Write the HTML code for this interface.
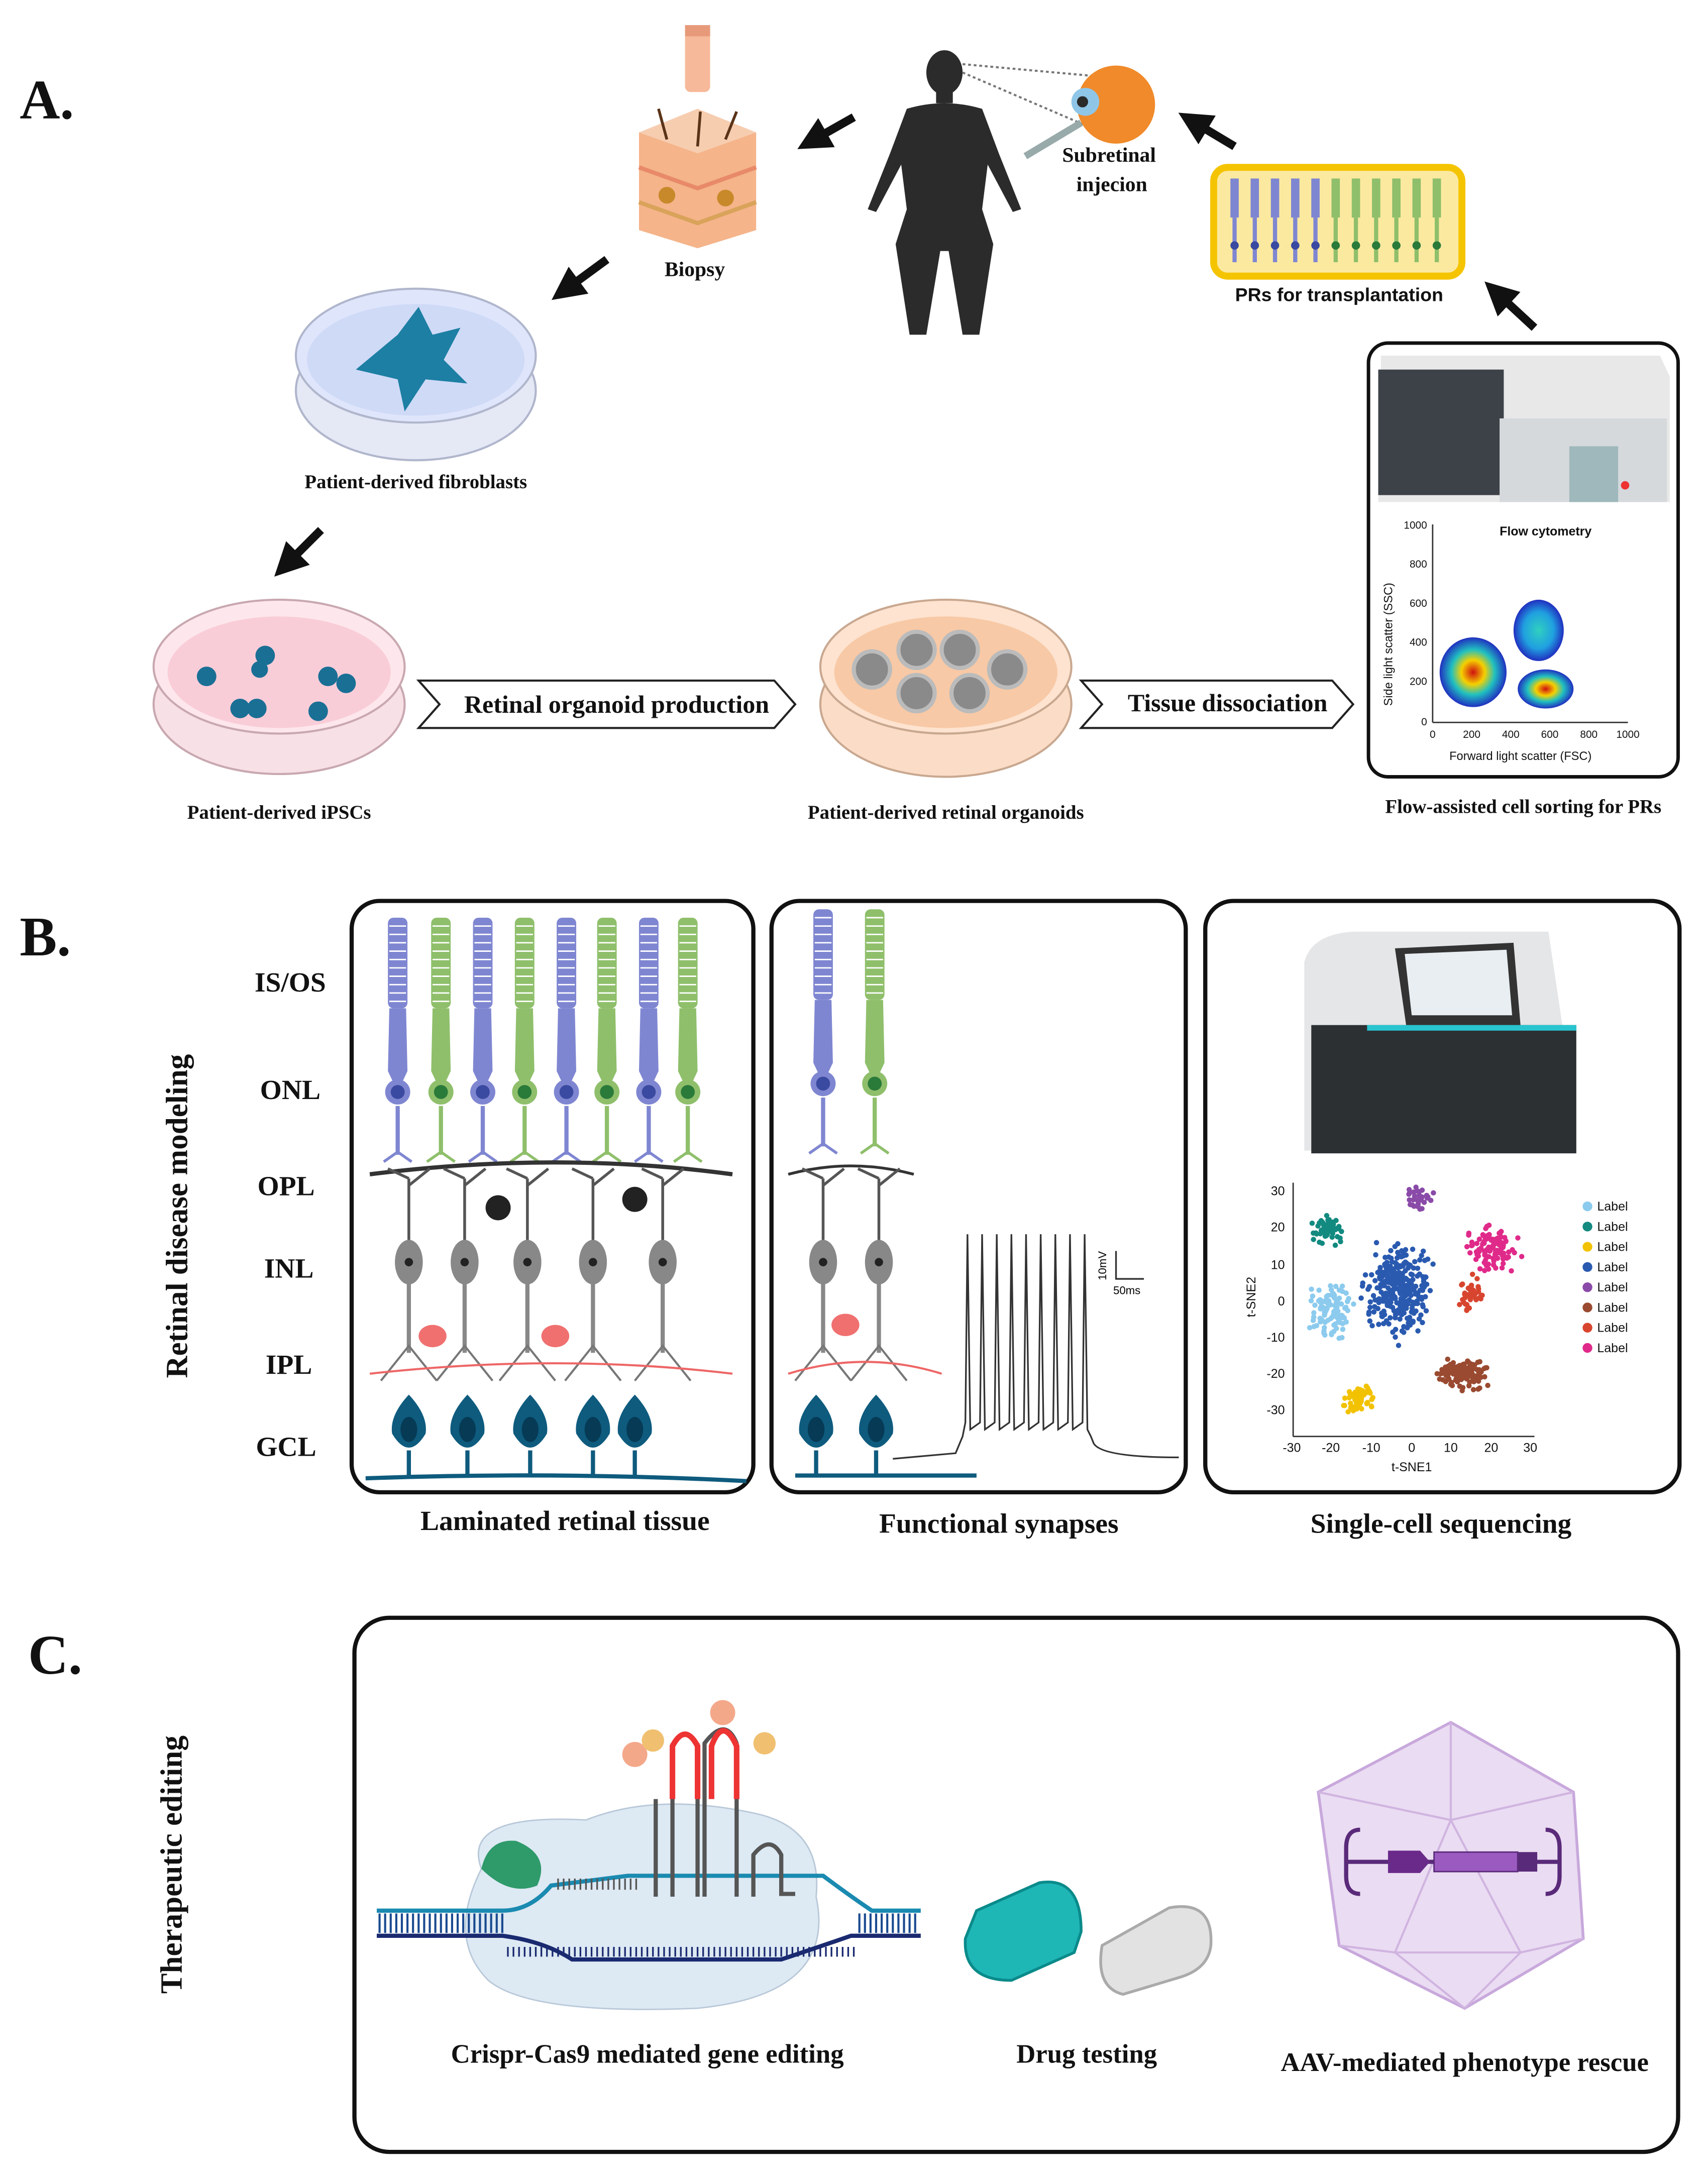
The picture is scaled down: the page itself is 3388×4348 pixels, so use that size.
<!DOCTYPE html>
<html><head><meta charset="utf-8">
<style>
html,body{margin:0;padding:0;background:#fff;}
svg{display:block;}
.s{font-family:"Liberation Serif",serif;font-weight:bold;fill:#111;}
.a{font-family:"Liberation Sans",sans-serif;fill:#111;}
</style></head>
<body>
<svg id="sv" width="3388" height="4348" viewBox="0 0 1220 1566" xmlns="http://www.w3.org/2000/svg">
<defs>
<marker id="ah" markerWidth="4" markerHeight="4" refX="2" refY="2" orient="auto"><path d="M0,0 L4,2 L0,4 z" fill="#111"/></marker>
<radialGradient id="hot"><stop offset="0" stop-color="#d01010"/><stop offset="0.35" stop-color="#f5d000"/><stop offset="0.65" stop-color="#20c0c0"/><stop offset="1" stop-color="#2030c0"/></radialGradient>
<radialGradient id="hot2"><stop offset="0" stop-color="#30d0c0"/><stop offset="0.6" stop-color="#20a0e0"/><stop offset="1" stop-color="#2030c0"/></radialGradient>
</defs>
<rect width="1220" height="1566" fill="#fff"/>

<!-- ===== A ===== -->
<text x="14" y="85" class="s" font-size="40">A.</text>
<!-- biopsy -->
<rect x="491" y="18" width="18" height="48" rx="4" fill="#f6b99a"/>
<rect x="491" y="18" width="18" height="8" fill="#e79a7a"/>
<path d="M458,95 L500,78 L542,95 L542,165 L500,178 L458,165 Z" fill="#f5b48a"/>
<path d="M458,95 L500,78 L542,95 L500,110 Z" fill="#f7cdb0"/>
<path d="M458,120 L500,135 L542,120" stroke="#e88a6a" stroke-width="3" fill="none"/>
<path d="M458,145 L500,160 L542,145" stroke="#d9a35a" stroke-width="3" fill="none"/>
<circle cx="478" cy="140" r="6" fill="#c8892a"/><circle cx="520" cy="142" r="6" fill="#c8892a"/>
<path d="M478,100 l-6,-22 M500,105 l2,-25 M520,100 l8,-20" stroke="#5a3318" stroke-width="2"/>
<text x="498" y="198" class="s" font-size="15" text-anchor="middle" font-weight="normal">Biopsy</text>
<line x1="612" y1="84" x2="582" y2="101" stroke="#111" stroke-width="6" marker-end="url(#ah)"/>
<!-- human -->
<g fill="#2b2b2b">
<ellipse cx="677" cy="52" rx="13" ry="16"/>
<rect x="671" y="64" width="12" height="10"/>
<path d="M650,78 Q677,70 704,78 L716,110 L732,150 L726,152 L708,118 L704,150 L712,175 L702,240 L690,240 L680,180 L674,180 L664,240 L652,240 L642,175 L650,150 L646,118 L628,152 L622,150 L638,110 Z"/>
</g>
<line x1="690" y1="46" x2="790" y2="55" stroke="#777" stroke-width="1.5" stroke-dasharray="2,2"/>
<line x1="690" y1="52" x2="790" y2="95" stroke="#777" stroke-width="1.5" stroke-dasharray="2,2"/>
<circle cx="800" cy="75" r="28" fill="#f08a2a"/>
<circle cx="778" cy="73" r="10" fill="#8fc6e8"/><circle cx="776" cy="73" r="4" fill="#2a2a2a"/>
<line x1="735" y1="112" x2="775" y2="88" stroke="#9aa" stroke-width="5"/>
<text x="795" y="116" class="s" font-size="15" text-anchor="middle" font-weight="normal">Subretinal</text>
<text x="797" y="137" class="s" font-size="15" text-anchor="middle" font-weight="normal">injecion</text>
<line x1="885" y1="105" x2="855" y2="87" stroke="#111" stroke-width="6" marker-end="url(#ah)"/>
<!-- PR box -->
<rect x="870" y="120" width="178" height="78" rx="10" fill="#fce9a0" stroke="#f5c400" stroke-width="5"/>
<g id="prs"></g>
<text x="960" y="216" class="a" font-size="13.5" text-anchor="middle" font-weight="bold">PRs for transplantation</text>
<line x1="1100" y1="235" x2="1073" y2="210" stroke="#111" stroke-width="6" marker-end="url(#ah)"/>
<line x1="435" y1="186" x2="405" y2="208" stroke="#111" stroke-width="6" marker-end="url(#ah)"/>
<!-- dish fibroblasts -->
<ellipse cx="298" cy="280" rx="86" ry="50" fill="#e5e8f5" stroke="#b0b6cc" stroke-width="1.5"/>
<ellipse cx="298" cy="255" rx="86" ry="48" fill="#dfe6fb" stroke="#b0b6cc" stroke-width="1.5"/>
<ellipse cx="298" cy="258" rx="78" ry="40" fill="#cfdaf7"/>
<path d="M255,265 L285,240 L300,220 L310,240 L330,235 L318,258 L335,275 L305,272 L290,295 L285,272 Z" fill="#1c7fa3"/>
<text x="298" y="350" class="s" font-size="14" text-anchor="middle" font-weight="normal">Patient-derived fibroblasts</text>
<line x1="230" y1="380" x2="205" y2="405" stroke="#111" stroke-width="6" marker-end="url(#ah)"/>
<!-- dish iPSC -->
<ellipse cx="200" cy="505" rx="90" ry="50" fill="#f7e0e6" stroke="#c9a8b0" stroke-width="1.5"/>
<ellipse cx="200" cy="478" rx="90" ry="48" fill="#fde7ec" stroke="#c9a8b0" stroke-width="1.5"/>
<ellipse cx="200" cy="482" rx="80" ry="40" fill="#f9cdd8"/>
<g fill="#1a6f95"><circle cx="148" cy="485" r="7"/><circle cx="190" cy="470" r="7"/><circle cx="186" cy="480" r="6"/><circle cx="172" cy="508" r="7"/><circle cx="184" cy="508" r="7"/><circle cx="235" cy="485" r="7"/><circle cx="248" cy="490" r="7"/><circle cx="228" cy="510" r="7"/></g>
<text x="200" y="587" class="s" font-size="14" text-anchor="middle" font-weight="normal">Patient-derived iPSCs</text>
<polygon points="300,488 555,488 570,505 555,522 300,522 315,505" fill="#fff" stroke="#222" stroke-width="1.5"/>
<text x="442" y="511" class="s" font-size="18" text-anchor="middle" font-weight="normal">Retinal organoid production</text>
<!-- dish organoids -->
<ellipse cx="678" cy="505" rx="90" ry="52" fill="#fbdcc6" stroke="#c9a890" stroke-width="1.5"/>
<ellipse cx="678" cy="478" rx="90" ry="48" fill="#fde3d0" stroke="#c9a890" stroke-width="1.5"/>
<ellipse cx="678" cy="482" rx="80" ry="40" fill="#f8c9a6"/>
<g fill="#8a8a8a" stroke="#bbb" stroke-width="3">
<circle cx="625" cy="480" r="13"/><circle cx="657" cy="466" r="13"/><circle cx="688" cy="466" r="13"/><circle cx="722" cy="480" r="13"/><circle cx="657" cy="497" r="13"/><circle cx="695" cy="497" r="13"/></g>
<text x="678" y="587" class="s" font-size="14" text-anchor="middle" font-weight="normal">Patient-derived retinal organoids</text>
<polygon points="775,488 955,488 970,505 955,522 775,522 790,505" fill="#fff" stroke="#222" stroke-width="1.5"/>
<text x="880" y="510" class="s" font-size="18" text-anchor="middle" font-weight="normal">Tissue dissociation</text>
<!-- flow box -->
<rect x="981" y="246" width="222" height="311" rx="14" fill="#fff" stroke="#111" stroke-width="2.5"/>
<path d="M990,255 L1190,255 L1197,270 L1197,360 L988,360 Z" fill="#e8e8e8"/>
<rect x="988" y="265" width="90" height="90" fill="#3d4248"/>
<rect x="1075" y="300" width="120" height="60" fill="#d5d9dc"/>
<rect x="1125" y="320" width="35" height="40" fill="#9fb8bb"/>
<circle cx="1165" cy="348" r="3" fill="#e33"/>
<text x="1108" y="384" class="a" font-size="9" text-anchor="middle" font-weight="bold">Flow cytometry</text>
<line x1="1027" y1="376" x2="1027" y2="518" stroke="#333"/><line x1="1027" y1="518" x2="1167" y2="518" stroke="#333"/>
<g class="a" font-size="7.5" text-anchor="end">
<text x="1023" y="379">1000</text><text x="1023" y="407">800</text><text x="1023" y="435">600</text><text x="1023" y="463">400</text><text x="1023" y="491">200</text><text x="1023" y="520">0</text></g>
<g class="a" font-size="7.5" text-anchor="middle">
<text x="1027" y="529">0</text><text x="1055" y="529">200</text><text x="1083" y="529">400</text><text x="1111" y="529">600</text><text x="1139" y="529">800</text><text x="1167" y="529">1000</text></g>
<text x="1090" y="545" class="a" font-size="8.5" text-anchor="middle">Forward light scatter (FSC)</text>
<text transform="translate(998,462) rotate(-90)" class="a" font-size="8.5" text-anchor="middle">Side light scatter (SSC)</text>
<ellipse cx="1056" cy="482" rx="24" ry="25" fill="url(#hot)"/>
<ellipse cx="1103" cy="452" rx="18" ry="22" fill="url(#hot2)"/>
<ellipse cx="1108" cy="494" rx="20" ry="14" fill="url(#hot)"/>
<text x="1092" y="583" class="s" font-size="14" text-anchor="middle" font-weight="normal">Flow-assisted cell sorting for PRs</text>

<!-- ===== B ===== -->
<text x="14" y="685" class="s" font-size="40">B.</text>
<text transform="translate(134,872) rotate(-90)" class="s" font-size="22" text-anchor="middle" font-weight="normal">Retinal disease modeling</text>
<g class="s" font-size="20" text-anchor="middle" font-weight="normal">
<text x="208" y="711">IS/OS</text><text x="208" y="788">ONL</text><text x="205" y="857">OPL</text><text x="207" y="916">INL</text><text x="207" y="985">IPL</text><text x="205" y="1044">GCL</text></g>
<rect x="252" y="646" width="288" height="424" rx="20" fill="#fff" stroke="#111" stroke-width="3"/>
<rect x="553" y="646" width="297" height="424" rx="20" fill="#fff" stroke="#111" stroke-width="3"/>
<rect x="864" y="646" width="340" height="424" rx="20" fill="#fff" stroke="#111" stroke-width="3"/>
<g id="cells"></g>
<g class="s" font-size="20" text-anchor="middle" font-weight="normal">
<text x="405" y="1097">Laminated retinal tissue</text><text x="716" y="1099">Functional synapses</text><text x="1033" y="1099">Single-cell sequencing</text></g>
<!-- sequencer -->
<path d="M935,690 Q940,670 970,668 L1110,668 L1120,735 L1130,740 L1130,825 L935,825 Z" fill="#e4e6e8"/>
<rect x="940" y="735" width="190" height="92" fill="#2d3033"/>
<path d="M1000,680 L1085,676 L1090,735 L1008,735 Z" fill="#333"/>
<path d="M1007,684 L1080,681 L1084,728 L1012,728 Z" fill="#e8eef2"/>
<rect x="980" y="735" width="150" height="4" fill="#28c5d0"/>
<line x1="927" y1="848" x2="927" y2="1030" stroke="#333"/><line x1="927" y1="1030" x2="1100" y2="1030" stroke="#333"/>
<g class="a" font-size="9" text-anchor="end">
<text x="921" y="857">30</text><text x="921" y="883">20</text><text x="921" y="910">10</text><text x="921" y="936">0</text><text x="921" y="962">-10</text><text x="921" y="988">-20</text><text x="921" y="1014">-30</text></g>
<g class="a" font-size="9" text-anchor="middle">
<text x="926" y="1041">-30</text><text x="954" y="1041">-20</text><text x="983" y="1041">-10</text><text x="1012" y="1041">0</text><text x="1040" y="1041">10</text><text x="1069" y="1041">20</text><text x="1097" y="1041">30</text></g>
<text x="1012" y="1055" class="a" font-size="9" text-anchor="middle">t-SNE1</text>
<text transform="translate(900,930) rotate(-90)" class="a" font-size="9" text-anchor="middle">t-SNE2</text>
<g id="tsne"></g>
<g id="legend" class="a" font-size="9"></g>

<!-- ===== C ===== -->
<text x="20" y="1200" class="s" font-size="40">C.</text>
<text transform="translate(130,1337) rotate(-90)" class="s" font-size="22" text-anchor="middle" font-weight="normal">Therapeutic editing</text>
<rect x="254" y="1160" width="949" height="383" rx="25" fill="#fff" stroke="#111" stroke-width="3"/>
<path d="M345,1340 Q330,1300 420,1305 Q470,1285 540,1300 Q590,1310 585,1360 Q600,1430 500,1440 Q380,1445 350,1420 Q320,1390 345,1340 Z" fill="#dde9f3" stroke="#b8c8d8"/>
<g id="dna"></g>
<path d="M345,1340 Q350,1318 370,1320 Q395,1330 385,1352 Q365,1360 345,1340 Z" fill="#2f9a6a"/>
<!-- sgRNA -->
<path d="M470,1290 L470,1360 M482,1250 L482,1360 M500,1250 L500,1360 M505,1360 L505,1250 Q520,1230 528,1250 L528,1360 M540,1360 L540,1330 Q552,1315 560,1330 L560,1358 L570,1358" stroke="#555" stroke-width="3" fill="none"/>
<path d="M482,1290 L482,1252 Q491,1235 500,1252 L500,1290" stroke="#e33" stroke-width="4" fill="none"/>
<path d="M510,1290 L510,1252 Q518,1230 528,1252 L528,1290" stroke="#e33" stroke-width="4" fill="none"/>
<circle cx="455" cy="1258" r="9" fill="#f4a88a"/><circle cx="468" cy="1248" r="8" fill="#f0c070"/>
<circle cx="518" cy="1228" r="9" fill="#f4a88a"/><circle cx="548" cy="1250" r="8" fill="#f0c070"/>
<!-- capsules -->
<path d="M700,1370 L745,1350 Q775,1345 775,1385 L770,1400 L725,1420 Q690,1420 692,1390 Z" fill="#1fb6b6" stroke="#0a8a8a" stroke-width="2"/>
<path d="M790,1395 L838,1368 Q870,1362 868,1395 Q866,1412 845,1418 L805,1430 Q785,1425 790,1395 Z" fill="#e2e2e2" stroke="#aaa" stroke-width="2"/>
<!-- AAV -->
<polygon points="1040,1235 1128,1285 1135,1390 1050,1440 960,1395 945,1285" fill="#eadcf2" stroke="#c8a8dc" stroke-width="2"/>
<path d="M1040,1235 L1040,1305 L1128,1285 M1040,1305 L945,1285 M1040,1305 L1000,1400 L1050,1440 M1000,1400 L960,1395 M1040,1305 L1090,1400 L1135,1390 M1090,1400 L1050,1440 M1000,1400 L1090,1400" stroke="#d0b4e0" stroke-width="1.5" fill="none"/>
<path d="M975,1312 Q965,1312 965,1325 L965,1345 Q965,1358 975,1358 M965,1335 L1118,1335 M1108,1312 Q1118,1312 1118,1325 L1118,1345 Q1118,1358 1108,1358" stroke="#5a2a7a" stroke-width="3" fill="none"/>
<polygon points="995,1327 1018,1327 1025,1335 1018,1343 995,1343" fill="#6a2a8a"/>
<rect x="1028" y="1328" width="60" height="14" fill="#9a5ac0" stroke="#5a2a7a"/>
<rect x="1088" y="1328" width="14" height="14" fill="#5a2a7a"/>
<g class="s" font-size="19" text-anchor="middle" font-weight="normal">
<text x="464" y="1479">Crispr-Cas9 mediated gene editing</text><text x="779" y="1479">Drug  testing</text><text x="1050" y="1485">AAV-mediated phenotype rescue</text></g>
</svg>
<script>
(function(){
var NS="http://www.w3.org/2000/svg";
function el(p,t,a){var e=document.createElementNS(NS,t);for(var k in a)e.setAttribute(k,a[k]);document.getElementById(p).appendChild(e);return e;}
var B="#7f86d1",G="#8fbf6b",D="#0e5b7e",GR="#888";
// PRs in yellow box
for(var i=0;i<11;i++){var x=885+i*14.5,c=i<5?B:G;
el("prs","rect",{x:x-3,y:128,width:6,height:28,fill:c});el("prs","line",{x1:x,y1:156,x2:x,y2:188,stroke:c,"stroke-width":3});
el("prs","circle",{cx:x,cy:176,r:3,fill:i<5?"#3a4aa0":"#2a7a3a"});}
function pr(x,c,top,sc){var nuc=c==B?"#3a4aa0":"#2a7a3a";
el("cells","rect",{x:x-7,y:top,width:14,height:65*sc,rx:4,fill:c});
for(var k=0;k<10;k++)el("cells","line",{x1:x-6,y1:top+6+k*6*sc,x2:x+6,y2:top+6+k*6*sc,stroke:"#fff","stroke-width":1});
el("cells","path",{d:"M"+(x-6)+","+(top+65*sc)+" L"+(x+6)+","+(top+65*sc)+" L"+(x+7)+","+(top+110*sc)+" L"+x+","+(top+125*sc)+" L"+(x-7)+","+(top+110*sc)+"Z",fill:c});
el("cells","circle",{cx:x,cy:top+125*sc,r:9,fill:c});el("cells","circle",{cx:x,cy:top+125*sc,r:5,fill:nuc});
el("cells","line",{x1:x,y1:top+135*sc,x2:x,y2:top+170*sc,stroke:c,"stroke-width":3});
el("cells","path",{d:"M"+(x-10)+","+(top+175*sc)+" L"+x+","+(top+168*sc)+" L"+(x+10)+","+(top+175*sc),stroke:c,"stroke-width":2,fill:"none"});}
var xs=[285,316,346,376,406,435,465,493];
xs.forEach(function(x,i){pr(x,i%2?G:B,658,1);});
function bip(p,x){el(p,"path",{d:"M"+x+",845 L"+(x-15)+",838 M"+x+",850 L"+(x+15)+",838 M"+x+",845 L"+x+",890",stroke:"#555","stroke-width":2,fill:"none"});
el(p,"ellipse",{cx:x,cy:905,rx:10,ry:16,fill:GR});el(p,"circle",{cx:x,cy:905,r:3,fill:"#222"});
el(p,"line",{x1:x,y1:920,x2:x,y2:970,stroke:GR,"stroke-width":3});
el(p,"path",{d:"M"+(x-20)+",990 L"+x+",965 L"+(x+20)+",990",stroke:"#777","stroke-width":1.5,fill:"none"});}
function gan(p,x){el(p,"path",{d:"M"+x+",1000 Q"+(x-14)+",1015 "+(x-12)+",1028 Q"+x+",1048 "+(x+12)+",1028 Q"+(x+14)+",1015 "+x+",1000Z",fill:D});
el(p,"ellipse",{cx:x,cy:1025,rx:6,ry:9,fill:"#063a55"});el(p,"line",{x1:x,y1:1040,x2:x,y2:1058,stroke:D,"stroke-width":3});}
el("cells","path",{d:"M265,842 Q400,825 525,842",stroke:"#333","stroke-width":3,fill:"none"});
[293,333,378,425,475].forEach(function(x){bip("cells",x);});
el("cells","circle",{cx:357,cy:866,r:9,fill:"#222"});el("cells","circle",{cx:455,cy:860,r:9,fill:"#222"});
el("cells","path",{d:"M265,985 Q400,970 525,985",stroke:"#e66","stroke-width":1.5,fill:"none"});
[310,398].forEach(function(x){el("cells","ellipse",{cx:x,cy:958,rx:10,ry:8,fill:"#f07070"});});
[293,335,380,425,455].forEach(function(x){gan("cells",x);});
el("cells","path",{d:"M262,1060 Q400,1055 535,1062",stroke:D,"stroke-width":3,fill:"none"});
// box 2
pr(590,B,652,1);pr(627,G,652,1);
el("cells","path",{d:"M565,842 Q610,830 655,842",stroke:"#333","stroke-width":2,fill:"none"});
bip("cells",590);bip("cells",630);el("cells","ellipse",{cx:606,cy:950,rx:10,ry:8,fill:"#f07070"});
el("cells","path",{d:"M565,985 Q620,968 675,985",stroke:"#e66","stroke-width":1.5,fill:"none"});
gan("cells",585);gan("cells",628);
el("cells","path",{d:"M570,1058 L700,1058",stroke:D,"stroke-width":3,fill:"none"});
var d="M640,1046 L685,1042 L690,1030";for(var s=0;s<9;s++){var x=692+s*10.5;d+=" L"+x+",1020 L"+(x+1.5)+",885 L"+(x+3.5)+",1025";}
d+=" L782,1030 L784,1035 Q790,1045 845,1045";el("cells","path",{d:d,stroke:"#333","stroke-width":1.2,fill:"none"});
el("cells","path",{d:"M800,897 L800,917 L820,917",stroke:"#333","stroke-width":1.2,fill:"none"});
var t=el("cells","text",{x:793,y:918,"font-size":8,"font-family":"Liberation Sans",transform:"rotate(-90 793 918)"});t.textContent="10mV";
t=el("cells","text",{x:798,y:928,"font-size":8,"font-family":"Liberation Sans"});t.textContent="50ms";
// tsne
var seed=7;function r(){seed=(seed*9301+49297)%233280;return seed/233280;}
function g(){return (r()+r()+r()-1.5)/1.5;}
var cl=[[953,882,16,13,"#138a80",60],[1018,860,12,12,"#8a4aa8",35],[955,940,20,25,"#8ccbee",110],[1003,925,30,45,"#2a5ab0",300],[1070,895,22,22,"#e02a8a",110],[1055,928,12,18,"#d8452f",45],[1050,985,28,14,"#9a4a30",120],[975,1003,15,13,"#f2c200",55]];
cl.forEach(function(c){for(var k=0;k<c[5];k++)el("tsne","circle",{cx:c[0]+g()*c[2],cy:c[1]+g()*c[3],r:1.9,fill:c[4]});});
var lc=["#8ccbee","#138a80","#f2c200","#2a5ab0","#8a4aa8","#9a4a30","#d8452f","#e02a8a"];
lc.forEach(function(c,i){var y=868+i*14.5;el("legend","circle",{cx:1138,cy:y-3,r:3.5,fill:c});var tt=el("legend","text",{x:1145,y:y});tt.textContent="Label";});
// dna
var top="M270,1370 L360,1370 Q380,1370 395,1352 L450,1345 L590,1345 Q610,1360 625,1370 L660,1370";
el("dna","path",{d:top,stroke:"#1a8ab0","stroke-width":3,fill:"none"});
el("dna","path",{d:"M270,1388 L360,1388 Q390,1392 410,1405 L560,1405 Q590,1395 610,1388 L660,1388",stroke:"#1a2a70","stroke-width":3,fill:"none"});
for(var x=272;x<660;x+=4){if(x<362||x>615)el("dna","line",{x1:x,y1:1372,x2:x,y2:1386,stroke:"#1a4a90","stroke-width":1.5});
else el("dna","line",{x1:x,y1:1396,x2:x,y2:1403,stroke:"#1a2a70","stroke-width":1.2});}
for(var x=400;x<460;x+=4)el("dna","line",{x1:x,y1:1347,x2:x,y2:1355,stroke:"#555","stroke-width":1.2});
})();
</script>
</body></html>
